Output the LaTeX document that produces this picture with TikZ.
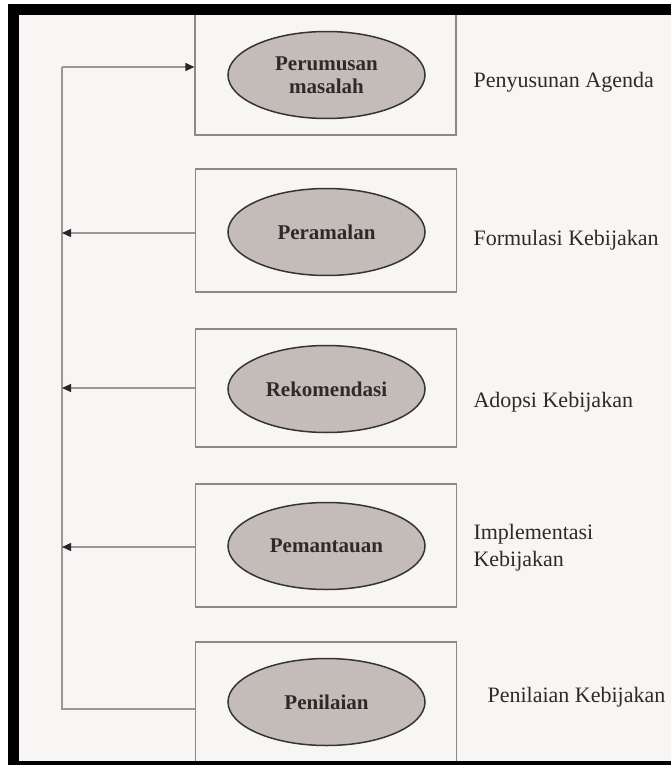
\documentclass[tikz,border=0pt]{standalone}
\usepackage{fontspec}
\setmainfont{Liberation Serif}
\usetikzlibrary{arrows.meta,shapes.geometric}

\definecolor{paper}{HTML}{F8F6F4}
\definecolor{boxgray}{HTML}{8C8A89}
\definecolor{linegray}{HTML}{9A9897}
\definecolor{ellfill}{HTML}{C3BCB8}
\definecolor{ellborder}{HTML}{383434}
\definecolor{textcol}{HTML}{2E2A2A}

\begin{document}
\begin{tikzpicture}[x=1pt,y=-1pt,
  stagebox/.style={draw=boxgray, line width=1.2pt, minimum width=261pt,
    minimum height=123pt, inner sep=0pt},
  stage/.style={ellipse, draw=ellborder, line width=1.5pt, fill=ellfill,
    minimum width=197pt, minimum height=87pt, inner sep=0pt, align=center,
    text=textcol, font=\fontsize{21}{23}\selectfont\bfseries},
  phase/.style={anchor=west, align=left, text=textcol,
    font=\fontsize{22}{27}\selectfont},
  link/.style={draw=linegray, line width=1.2pt},
  tip/.style={-{Triangle[length=9pt,width=8pt,color=black!85]}}
]
% page and paper
\fill[white] (0,0) rectangle (671,765);
\fill[paper] (8,4) rectangle (671,765);
\useasboundingbox (0,0) rectangle (671,765);

% stage frames
\node[stagebox] (b1) at (325.5,73.5) {};
\node[stagebox] (b2) at (326,230.5) {};
\node[stagebox, minimum height=118pt] (b3) at (326,388) {};
\node[stagebox] (b4) at (326,545.5) {};
\node[stagebox] (b5) at (326,703.5) {};

% analytic procedures
\node[stage] (e1) at (326.5,75) {Perumusan\\masalah};
\node[stage] (e2) at (326.5,232) {Peramalan};
\node[stage] (e3) at (326.5,389) {Rekomendasi};
\node[stage] (e4) at (326.5,546) {Pemantauan};
\node[stage] (e5) at (326.5,702) {Penilaian};

% policy-making phases
\node[phase] (l1) at (470,82) {Penyusunan Agenda};
\node[phase] (l2) at (470,240) {Formulasi Kebijakan};
\node[phase] (l3) at (470,402) {Adopsi Kebijakan};
\node[phase] (l4) at (470,548) {Implementasi\\Kebijakan};
\node[phase] (l5) at (484,697) {Penilaian Kebijakan};

% feedback loop
\coordinate (top) at (62,67);
\coordinate (bot) at (62,709);
\coordinate (r2) at (62,233);
\coordinate (r3) at (62,388);
\coordinate (r4) at (62,547);
\draw[link] (b5.west |- bot) -- (bot) -- (top);
\draw[link,tip] (top) -- (b1.west |- top);
\draw[link,tip] (b2.west |- r2) -- (r2);
\draw[link,tip] (b3.west |- r3) -- (r3);
\draw[link,tip] (b4.west |- r4) -- (r4);

% outer frame
\fill[black] (8,4) rectangle (671,15);
\fill[black] (8,4) rectangle (19,765);
\fill[black] (8,761) rectangle (671,765);
\end{tikzpicture}
\end{document}
